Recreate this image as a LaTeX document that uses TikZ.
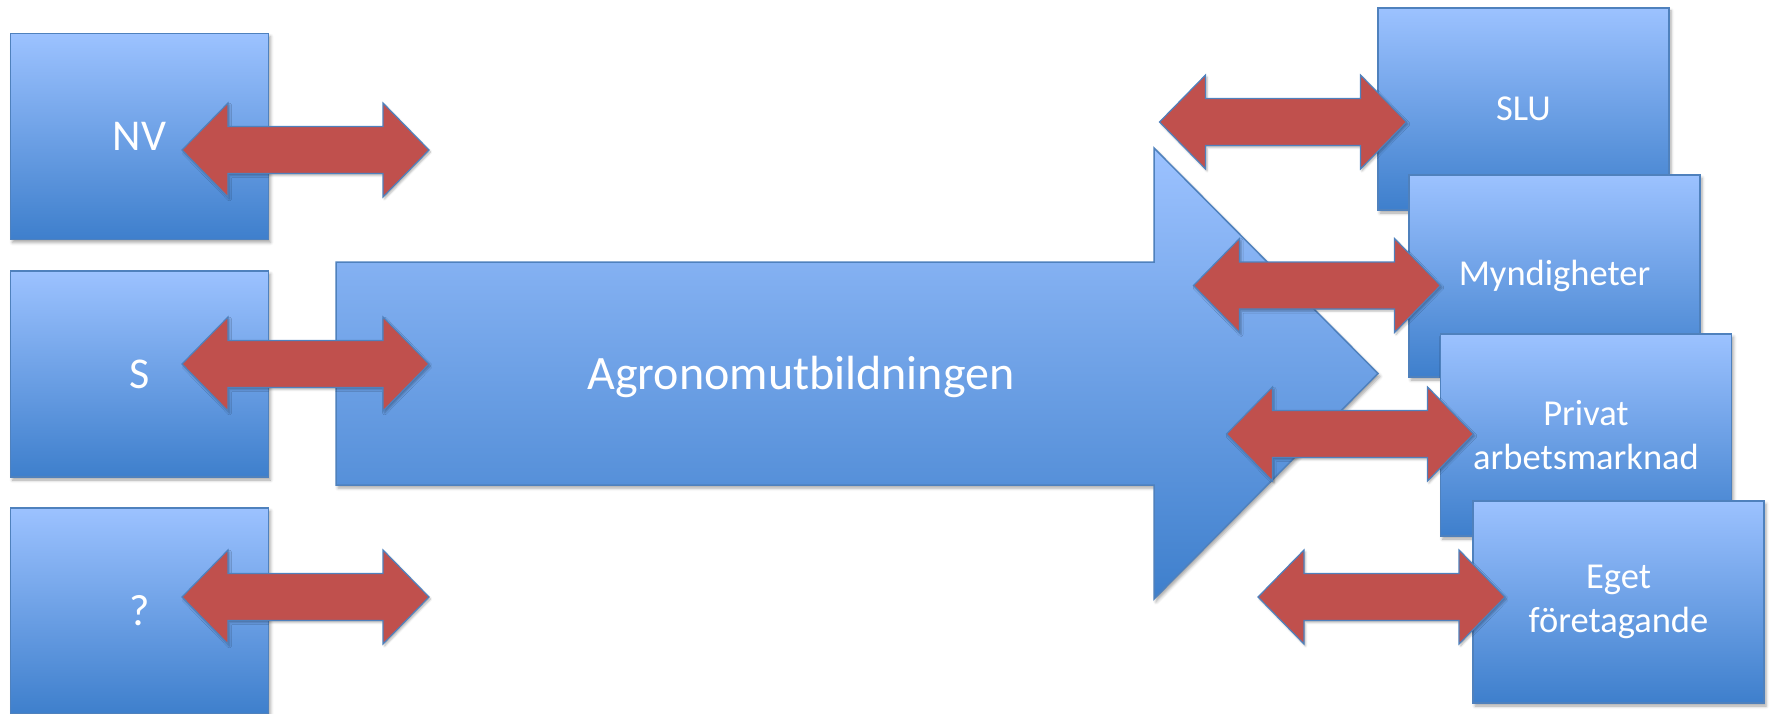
\documentclass[tikz,border=0pt]{standalone}
\usepackage{fontspec}
\setmainfont{Carlito}
\usetikzlibrary{shadows.blur}
\definecolor{boxtop}{RGB}{156,194,255}
\definecolor{boxbot}{RGB}{62,127,204}
\definecolor{boxline}{RGB}{79,129,189}
\definecolor{redfill}{RGB}{192,80,77}
\tikzset{
  softshadow/.style={blur shadow={shadow xshift=2pt, shadow yshift=-3pt, shadow blur radius=3pt, shadow opacity=35}},
  box/.style={draw=boxline, line width=1.5pt, top color=boxtop, bottom color=boxbot,
    text=white, align=center, inner sep=0pt, softshadow},
  leftbox/.style={box, minimum width=258pt, minimum height=206pt, font=\fontsize{44}{53}\selectfont},
  rightbox/.style={box, minimum width=291pt, minimum height=202pt, font=\fontsize{36.5}{44}\selectfont},
  bigarrow/.style={draw=boxline, line width=1.5pt, top color=boxtop, bottom color=boxbot, softshadow},
  redarrow/.style={fill=redfill, draw=boxline, line width=1.2pt, line join=miter,
    blur shadow={shadow xshift=1.5pt, shadow yshift=-2pt, shadow blur radius=2pt, shadow opacity=30}},
  dblarrow/.pic={\path[redarrow] (-123.5,0) -- (-77.5,-47) -- (-77.5,-23.5) -- (77.5,-23.5)
    -- (77.5,-47) -- (123.5,0) -- (77.5,47) -- (77.5,23.5) -- (-77.5,23.5) -- (-77.5,47) -- cycle;}
}
\begin{document}
\begin{tikzpicture}[x=1pt,y=-1pt]
\useasboundingbox (0,0) rectangle (1772,714);
% left boxes
\node[leftbox] (nv) at (139.5,136.5) {NV};
\node[leftbox] (s) at (139.5,374) {S};
\node[leftbox] (q) at (139.5,611) {?};
% main arrow
\path[bigarrow] (336,262) -- (1154,262) -- (1154,148) -- (1378,373.5) -- (1154,599)
  -- (1154,485) -- (336,485) -- cycle;
\node[text=white, font=\fontsize{48}{57}\selectfont] (agro) at (801,377) {Agronomutbildningen};
% right boxes
\node[rightbox] (slu) at (1523.5,109) {SLU};
\node[rightbox] (myn) at (1554.5,276) {Myndigheter};
\node[rightbox] (priv) at (1586,435) {Privat\\arbetsmarknad};
\node[rightbox] (eget) at (1618.5,602) {Eget\\företagande};
% red double arrows
\pic (anv) at (305.5,150) {dblarrow};
\pic (as) at (305.5,364) {dblarrow};
\pic (aq) at (305.5,597) {dblarrow};
\pic (aslu) at (1283,122) {dblarrow};
\pic (amyn) at (1317,285.5) {dblarrow};
\pic (apriv) at (1350,434) {dblarrow};
\pic (aeget) at (1381.5,597) {dblarrow};
\end{tikzpicture}
\end{document}
